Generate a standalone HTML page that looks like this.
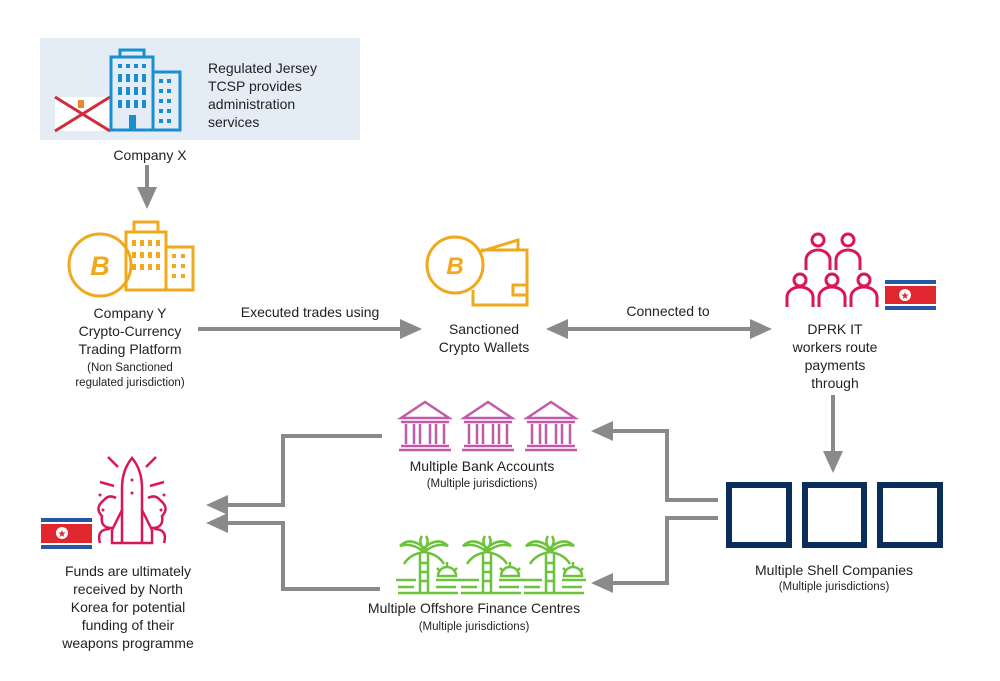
<!DOCTYPE html>
<html><head><meta charset="utf-8"><style>
html,body{margin:0;padding:0;background:#fff}
svg{display:block}
text{font-family:"Liberation Sans",sans-serif;fill:#222}
</style></head><body>
<svg width="1000" height="681" viewBox="0 0 1000 681" xmlns="http://www.w3.org/2000/svg">
<defs>
<marker id="ah" markerWidth="5.5" markerHeight="5" refX="4.5" refY="2.5" orient="auto" markerUnits="strokeWidth"><path d="M0,0 L5.5,2.5 L0,5 z" fill="#8a8a8a"/></marker>
<marker id="ahs" markerWidth="5.5" markerHeight="5" refX="1" refY="2.5" orient="auto" markerUnits="strokeWidth"><path d="M5.5,0 L0,2.5 L5.5,5 z" fill="#8a8a8a"/></marker>
</defs>
<!-- top box -->
<rect x="40" y="38" width="320" height="102" fill="#e4ecf6"/>
<rect x="55" y="97" width="55" height="34" fill="#fff"/>
<path d="M55,97 L110,131 M110,97 L55,131" stroke="#d42b3a" stroke-width="3"/>
<rect x="78" y="100" width="6" height="8" fill="#e88a2a"/>
<g fill="none" stroke="#1a8fcf" stroke-width="3">
<rect x="111" y="57" width="42" height="73"/><rect x="120" y="50" width="24" height="7"/>
<rect x="153" y="72" width="27" height="58"/>
</g>
<g fill="#1a8fcf">
<rect x="118" y="64" width="4" height="4"/><rect x="126" y="64" width="4" height="4"/><rect x="134" y="64" width="4" height="4"/><rect x="142" y="64" width="4" height="4"/>
<rect x="118" y="74" width="4" height="8"/><rect x="126" y="74" width="4" height="8"/><rect x="134" y="74" width="4" height="8"/><rect x="142" y="74" width="4" height="8"/>
<rect x="118" y="87" width="4" height="8"/><rect x="126" y="87" width="4" height="8"/><rect x="134" y="87" width="4" height="8"/><rect x="142" y="87" width="4" height="8"/>
<rect x="118" y="100" width="4" height="8"/><rect x="126" y="100" width="4" height="8"/><rect x="134" y="100" width="4" height="8"/><rect x="142" y="100" width="4" height="8"/>
<rect x="129" y="115" width="7" height="15"/>
<rect x="159" y="79" width="4" height="4"/><rect x="167" y="79" width="4" height="4"/><rect x="159" y="89" width="4" height="4"/><rect x="167" y="89" width="4" height="4"/>
<rect x="159" y="99" width="4" height="4"/><rect x="167" y="99" width="4" height="4"/><rect x="159" y="109" width="4" height="4"/><rect x="167" y="109" width="4" height="4"/>
<rect x="159" y="119" width="4" height="4"/><rect x="167" y="119" width="4" height="4"/>
</g>
<text x="208" y="73" font-size="14">Regulated Jersey</text>
<text x="208" y="91" font-size="14">TCSP provides</text>
<text x="208" y="109" font-size="14">administration</text>
<text x="208" y="127" font-size="14">services</text>
<text x="150" y="160" font-size="14" text-anchor="middle">Company X</text>
<line x1="147" y1="165" x2="147" y2="205" stroke="#8a8a8a" stroke-width="4" marker-end="url(#ah)"/>

<!-- Company Y -->
<g fill="none" stroke="#f0a81c" stroke-width="3">
<circle cx="100" cy="265" r="31"/>
<rect x="126" y="232" width="40" height="58"/><rect x="134" y="222" width="24" height="10"/>
<rect x="166" y="247" width="27" height="43"/>
</g>
<text x="100" y="275" font-size="27" font-weight="bold" font-style="italic" text-anchor="middle" style="fill:#f0a81c">B</text>
<g fill="#f0a81c">
<rect x="132" y="240" width="4" height="6"/><rect x="140" y="240" width="4" height="6"/><rect x="148" y="240" width="4" height="6"/><rect x="156" y="240" width="4" height="6"/>
<rect x="132" y="252" width="4" height="6"/><rect x="140" y="252" width="4" height="6"/><rect x="148" y="252" width="4" height="6"/><rect x="156" y="252" width="4" height="6"/>
<rect x="132" y="264" width="4" height="6"/><rect x="140" y="264" width="4" height="6"/><rect x="148" y="264" width="4" height="6"/><rect x="156" y="264" width="4" height="6"/>
<rect x="172" y="254" width="4" height="4"/><rect x="181" y="254" width="4" height="4"/><rect x="172" y="264" width="4" height="4"/><rect x="181" y="264" width="4" height="4"/><rect x="172" y="274" width="4" height="4"/><rect x="181" y="274" width="4" height="4"/>
</g>
<text x="130" y="318" font-size="14" text-anchor="middle">Company Y</text>
<text x="130" y="336" font-size="14" text-anchor="middle">Crypto-Currency</text>
<text x="130" y="354" font-size="14" text-anchor="middle">Trading Platform</text>
<text x="130" y="371" font-size="11.5" text-anchor="middle">(Non Sanctioned</text>
<text x="130" y="386" font-size="11.5" text-anchor="middle">regulated jurisdiction)</text>

<line x1="198" y1="329" x2="418" y2="329" stroke="#8a8a8a" stroke-width="4" marker-end="url(#ah)"/>
<text x="310" y="317" font-size="14" text-anchor="middle">Executed trades using</text>

<!-- Wallet -->
<g fill="none" stroke="#f0a81c" stroke-width="3">
<circle cx="455" cy="265" r="28"/>
<path d="M479,252 L518,240 L518,250"/>
<path d="M481,250 L527,250 L527,305 L473,305 L473,290"/>
<rect x="513" y="285" width="14" height="10"/>
</g>
<text x="455" y="274" font-size="24" font-weight="bold" font-style="italic" text-anchor="middle" style="fill:#f0a81c">B</text>
<text x="484" y="334" font-size="14" text-anchor="middle">Sanctioned</text>
<text x="484" y="352" font-size="14" text-anchor="middle">Crypto Wallets</text>

<line x1="550" y1="329" x2="768" y2="329" stroke="#8a8a8a" stroke-width="4" marker-end="url(#ah)" marker-start="url(#ahs)"/>
<text x="668" y="316" font-size="14" text-anchor="middle">Connected to</text>

<!-- DPRK people -->
<g fill="none" stroke="#d8175a" stroke-width="3">
<circle cx="818" cy="240" r="6"/><circle cx="848" cy="240" r="6"/>
<path d="M806,270 v-10 a12,10 0 0 1 24,0 v10 M836,270 v-10 a12,10 0 0 1 24,0 v10"/>
<circle cx="800" cy="280" r="6"/><circle cx="832" cy="280" r="6"/><circle cx="864" cy="280" r="6"/>
<path d="M787,307 v-10 a13,10 0 0 1 26,0 v10 M819,307 v-10 a13,10 0 0 1 26,0 v10 M851,307 v-10 a13,10 0 0 1 26,0 v10"/>
</g>
<g>
<rect x="885" y="280" width="51" height="30" fill="#2656a6"/>
<rect x="885" y="284" width="51" height="22" fill="#fff"/>
<rect x="885" y="286" width="51" height="18" fill="#e0262f"/>
<circle cx="905" cy="295" r="6" fill="#fff"/>
<text x="905" y="299" font-size="10" text-anchor="middle" style="fill:#e0262f">★</text>
</g>
<text x="835" y="334" font-size="14" text-anchor="middle">DPRK IT</text>
<text x="835" y="352" font-size="14" text-anchor="middle">workers route</text>
<text x="835" y="370" font-size="14" text-anchor="middle">payments</text>
<text x="835" y="388" font-size="14" text-anchor="middle">through</text>
<line x1="833" y1="395" x2="833" y2="469" stroke="#8a8a8a" stroke-width="4" marker-end="url(#ah)"/>

<!-- shell companies -->
<g fill="none" stroke="#0b2d5b" stroke-width="6">
<rect x="729" y="485" width="60" height="60"/><rect x="805" y="485" width="59" height="60"/><rect x="880" y="485" width="60" height="60"/>
</g>
<text x="834" y="575" font-size="14" text-anchor="middle">Multiple Shell Companies</text>
<text x="834" y="590" font-size="11.5" text-anchor="middle">(Multiple jurisdictions)</text>

<!-- connectors right -->
<polyline points="718,500 667,500 667,431 595,431" fill="none" stroke="#8a8a8a" stroke-width="4" marker-end="url(#ah)"/>
<polyline points="718,518 667,518 667,583 595,583" fill="none" stroke="#8a8a8a" stroke-width="4" marker-end="url(#ah)"/>
<!-- connectors left -->
<polyline points="382,436 283,436 283,505 210,505" fill="none" stroke="#8a8a8a" stroke-width="4" marker-end="url(#ah)"/>
<polyline points="380,589 283,589 283,523 210,523" fill="none" stroke="#8a8a8a" stroke-width="4" marker-end="url(#ah)"/>

<!-- banks -->
<g fill="none" stroke="#c25aa8" stroke-width="2.5">
<g id="bank"><path d="M401,418 L425,402 L449,418 Z"/><line x1="401" y1="422" x2="449" y2="422"/>
<line x1="406" y1="424" x2="406" y2="444"/><line x1="414" y1="424" x2="414" y2="444"/><line x1="420" y1="424" x2="420" y2="444"/><line x1="430" y1="424" x2="430" y2="444"/><line x1="436" y1="424" x2="436" y2="444"/><line x1="444" y1="424" x2="444" y2="444"/>
<line x1="401" y1="446" x2="449" y2="446"/><line x1="399" y1="450" x2="451" y2="450"/></g>
<use href="#bank" x="63"/><use href="#bank" x="126"/>
</g>
<text x="482" y="471" font-size="14" text-anchor="middle">Multiple Bank Accounts</text>
<text x="482" y="487" font-size="11.5" text-anchor="middle">(Multiple jurisdictions)</text>

<!-- palms -->
<g fill="none" stroke="#6cc23a" stroke-width="2.5">
<g id="palm"><path d="M420,554 v39 M428,554 v39 M420,563 h8 M420,572 h8 M420,581 h8"/>
<path d="M424,552 q-12,-10 -24,-6 q10,-10 24,2 M424,552 q12,-10 24,-6 q-10,-10 -24,2 M424,552 q-14,2 -20,12 M424,552 q14,2 20,12 M424,550 q-6,-8 -2,-14 M424,550 q6,-8 2,-14"/>
<path d="M438,576 a9,9 0 0 1 18,0 z M447,562 v4 M437,568 l3,3 M457,568 l-3,3"/>
<path d="M396,580 h20 M436,580 h24 M398,587 h16 M436,587 h20 M398,593 h60"/></g>
<use href="#palm" x="63"/><use href="#palm" x="126"/>
</g>
<text x="474" y="613" font-size="14" text-anchor="middle">Multiple Offshore Finance Centres</text>
<text x="474" y="630" font-size="11.5" text-anchor="middle">(Multiple jurisdictions)</text>

<!-- rocket -->
<g fill="none" stroke="#d8175a" stroke-width="2.5">
<path d="M132,458 q-10,12 -10,30 v55 h20 v-55 q0,-18 -10,-30 z"/>
<path d="M122,510 l-10,20 v13 h10 M142,510 l10,20 v13 h-10"/>
<path d="M112,528 q-12,0 -10,-12 q-8,-8 2,-16 q5,-6 12,-2 M152,528 q12,0 10,-12 q8,-8 -2,-16 q-5,-6 -12,-2"/>
<path d="M100,543 q-4,-14 10,-14 M164,543 q4,-14 -10,-14"/>
<path d="M108,457 l10,10 M156,457 l-10,10 M100,482 l14,4 M164,482 l-14,4"/>
</g>
<g fill="#d8175a"><circle cx="132" cy="480" r="1.5"/><circle cx="132" cy="493" r="1.5"/><circle cx="100" cy="495" r="1.5"/><circle cx="164" cy="495" r="1.5"/><circle cx="103" cy="510" r="1.5"/><circle cx="161" cy="510" r="1.5"/></g>
<g>
<rect x="41" y="518" width="51" height="31" fill="#2656a6"/>
<rect x="41" y="522" width="51" height="23" fill="#fff"/>
<rect x="41" y="524" width="51" height="19" fill="#e0262f"/>
<circle cx="62" cy="533" r="6" fill="#fff"/>
<text x="62" y="537" font-size="10" text-anchor="middle" style="fill:#e0262f">★</text>
</g>
<text x="128" y="576" font-size="14" text-anchor="middle">Funds are ultimately</text>
<text x="128" y="594" font-size="14" text-anchor="middle">received by North</text>
<text x="128" y="612" font-size="14" text-anchor="middle">Korea for potential</text>
<text x="128" y="630" font-size="14" text-anchor="middle">funding of their</text>
<text x="128" y="648" font-size="14" text-anchor="middle">weapons programme</text>
</svg>
</body></html>
